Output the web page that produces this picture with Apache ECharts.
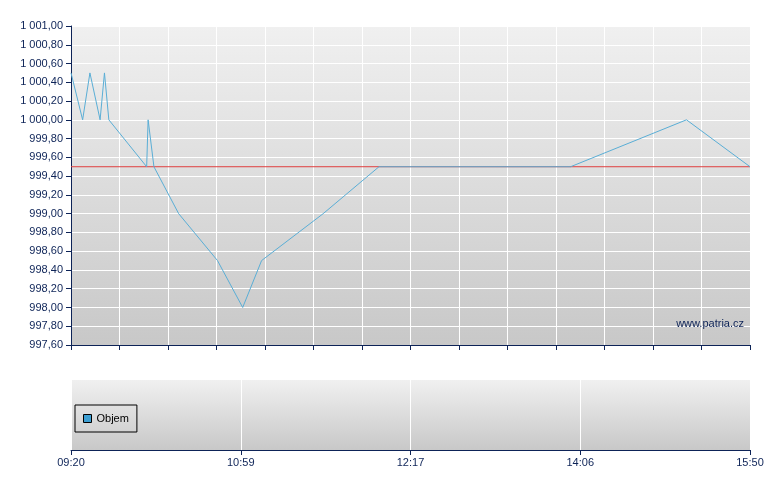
<!DOCTYPE html>
<html>
<head>
<meta charset="utf-8">
<script src="https://cdn.jsdelivr.net/npm/echarts@6/dist/echarts.min.js"></script>
<style>
html,body{margin:0;padding:0;background:#fff;}
#chart{width:780px;height:490px;}
</style>
</head>
<body>
<div id="chart"></div>
<script>
// Horizontal position of each trade (0 = 09:20 open, 14 = 15:50 close; axis is not linear in clock time)
const positions = [0, 0.24, 0.39, 0.60, 0.69, 0.78, 1.56, 1.59, 1.71, 2.22, 3.02, 3.54, 3.93, 5.20, 6.35, 10.30, 12.69, 14];
const prices    = [1000.5, 1000.0, 1000.5, 1000.0, 1000.5, 1000.0, 999.5, 1000.0, 999.5, 999.0, 998.5, 998.0, 998.5, 999.0, 999.5, 999.5, 1000.0, 999.5];
const referencePrice = 999.5;
const timeLabels = ['09:20', '10:59', '12:17', '14:06', '15:50'];
const volumeData = [];
const watermark = 'www.patria.cz';

const navy = '#0d2357';
const font = 'Liberation Sans, Arial, sans-serif';

function fmtPrice(v) {
  const s = v.toFixed(2).split('.');
  const intPart = s[0].replace(/\B(?=(\d{3})+(?!\d))/g, ' ');
  return intPart + ',' + s[1];
}
function bg() {
  return {type: 'linear', x: 0, y: 0, x2: 0, y2: 1,
    colorStops: [{offset: 0, color: '#f0f0f0'}, {offset: 1, color: '#c8c8c8'}]};
}

const priceSeries = positions.map((p, i) => [p, prices[i]]);
const refSeries = [[positions[0], referencePrice], [positions[positions.length - 1], referencePrice]];

const chart = echarts.init(document.getElementById('chart'), null, {renderer: 'canvas'});
chart.setOption({
  animation: false,
  backgroundColor: '#ffffff',
  textStyle: {fontFamily: font},
  grid: [
    {left: 71, top: 26, width: 679, height: 319, show: true, backgroundColor: bg(), borderWidth: 0},
    {left: 71, top: 380, width: 679, height: 70, show: true, backgroundColor: bg(), borderWidth: 0}
  ],
  xAxis: [
    {type: 'value', gridIndex: 0, min: 0, max: 14, interval: 1,
      axisLine: {show: true, onZero: false, lineStyle: {color: navy, width: 1}},
      axisTick: {show: true, length: 5, lineStyle: {color: navy}},
      axisLabel: {show: false},
      splitLine: {show: true, lineStyle: {color: '#ffffff', width: 1}}},
    {type: 'value', gridIndex: 1, min: 0, max: 14, interval: 3.5,
      axisLine: {show: true, onZero: false, lineStyle: {color: navy, width: 1}},
      axisTick: {show: true, length: 5, lineStyle: {color: navy}},
      axisLabel: {show: true, color: navy, fontSize: 11, fontFamily: font, margin: 7,
        formatter: v => timeLabels[Math.round(v / 3.5)]},
      splitLine: {show: true, lineStyle: {color: '#ffffff', width: 1}}}
  ],
  yAxis: [
    {type: 'value', gridIndex: 0, min: 997.6, max: 1001, interval: 0.2,
      axisLine: {show: true, onZero: false, lineStyle: {color: navy, width: 1}},
      axisTick: {show: true, length: 5, lineStyle: {color: navy}},
      axisLabel: {show: true, color: navy, fontSize: 11, fontFamily: font, margin: 8,
        formatter: v => fmtPrice(v)},
      splitLine: {show: true, lineStyle: {color: '#ffffff', width: 1}}},
    {type: 'value', gridIndex: 1, min: 0, max: 1,
      axisLine: {show: false}, axisTick: {show: false}, axisLabel: {show: false},
      splitLine: {show: false}}
  ],
  legend: {
    data: [{name: 'Objem', icon: 'rect'}],
    left: 75, top: 405, padding: [8, 8, 8, 8],
    itemWidth: 8, itemHeight: 8,
    borderColor: '#000', borderWidth: 1, borderRadius: 0,
    itemStyle: {borderColor: '#000', borderWidth: 1},
    textStyle: {color: '#000', fontSize: 11, fontFamily: font}
  },
  graphic: [
    {type: 'text', right: 36, top: 318, z: 10,
      style: {text: watermark, fill: navy, fontSize: 11, fontFamily: font}}
  ],
  series: [
    {name: 'Reference', type: 'line', xAxisIndex: 0, yAxisIndex: 0, data: refSeries,
      showSymbol: false, symbol: 'none', z: 2,
      lineStyle: {color: '#e04040', width: 1}},
    {name: 'Price', type: 'line', xAxisIndex: 0, yAxisIndex: 0, data: priceSeries,
      showSymbol: false, symbol: 'none', z: 3,
      lineStyle: {color: '#5aaed6', width: 1}},
    {name: 'Objem', type: 'bar', xAxisIndex: 1, yAxisIndex: 1, data: volumeData,
      itemStyle: {color: '#3d9fd3'}}
  ]
});
</script>
</body>
</html>
